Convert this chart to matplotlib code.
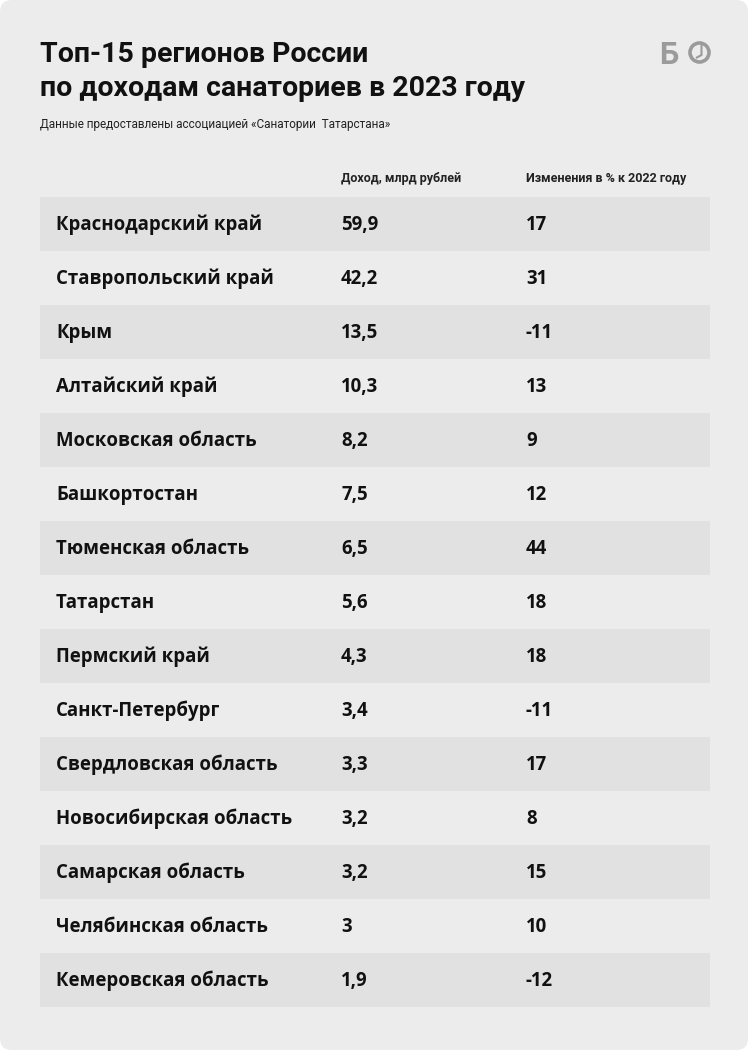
import matplotlib.pyplot as plt
from matplotlib.patches import FancyBboxPatch, Rectangle, Circle

regions = ['Краснодарский край', 'Ставропольский край', 'Крым', 'Алтайский край',
           'Московская область', 'Башкортостан', 'Тюменская область', 'Татарстан',
           'Пермский край', 'Санкт-Петербург', 'Свердловская область',
           'Новосибирская область', 'Самарская область', 'Челябинская область',
           'Кемеровская область']
income = ['59,9', '42,2', '13,5', '10,3', '8,2', '7,5', '6,5', '5,6', '4,3',
          '3,4', '3,3', '3,2', '3,2', '3', '1,9']
change = ['17', '31', '-11', '13', '9', '12', '44', '18', '18', '-11', '17',
          '8', '15', '10', '-12']

title_lines = ['Топ-15 регионов России', 'по доходам санаториев в 2023 году']
subtitle = 'Данные предоставлены ассоциацией «Санатории  Татарстана»'
col_heads = ['Доход, млрд рублей', 'Изменения в % к 2022 году']

W, H = 750, 1053
fig = plt.figure(figsize=(W / 100, H / 100), dpi=100, facecolor='white')
ax = fig.add_axes([0, 0, 1, 1])
ax.set_xlim(0, W)
ax.set_ylim(H, 0)
ax.axis('off')

# card background
card = FancyBboxPatch((0, 0), 748, 1050, boxstyle='round,pad=0,rounding_size=12',
                      fc='#ececec', ec='none')
ax.add_patch(card)

# title, two lines with own baselines
for yb, line in zip([62, 96], title_lines):
    ax.text(40, yb, line, fontsize=20.5, fontweight='bold', family='Roboto',
            color='#111111', va='baseline')
ax.text(40, 128, subtitle, fontsize=8.5, family='Roboto', color='#222222')

# logo
grey = '#9b9b9b'
ax.text(659, 64, 'Б', fontsize=22, fontweight='bold', family='Roboto',
        color=grey, va='baseline')
ax.add_patch(Circle((699.5, 52.5), 9.5, fc='none', ec=grey, lw=2.6))
ax.plot([701.5, 701.5, 696], [45, 55, 58], color=grey, lw=1.5,
        solid_capstyle='butt')

# column headers
ax.text(341, 182, col_heads[0], fontsize=9, fontweight='bold', family='Roboto',
        color='#222222')
ax.text(526, 182, col_heads[1], fontsize=9, fontweight='bold', family='Roboto',
        color='#222222')

row_top, row_h = 197, 54
for i, (r, v, c) in enumerate(zip(regions, income, change)):
    y0 = row_top + i * row_h
    if i % 2 == 0:
        ax.add_patch(Rectangle((40, y0), 670, row_h, fc='#e1e1e1', ec='none'))
    yc = y0 + row_h / 2 + 1
    for x, s in [(56, r), (341, v), (526, c)]:
        ax.text(x, yc, s, fontsize=13.45, fontweight='bold', family='Open Sans',
                color='#111111', va='center')

fig.savefig('out.png', dpi=100, facecolor='white')
